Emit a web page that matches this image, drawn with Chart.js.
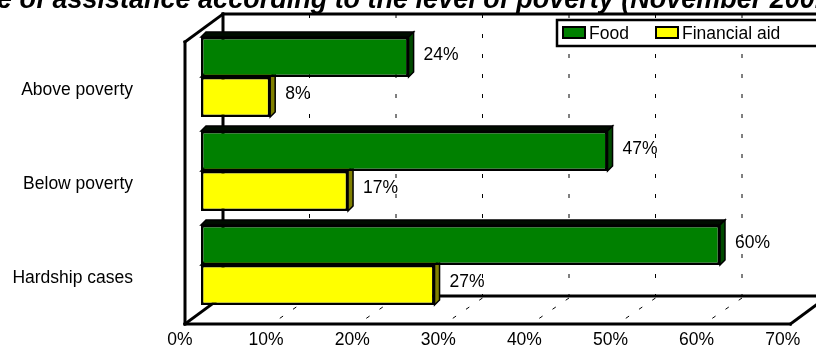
<!DOCTYPE html>
<html>
<head>
<meta charset="utf-8">
<script src="https://cdn.jsdelivr.net/npm/chart.js@4/dist/chart.umd.min.js"></script>
<style>
  html, body { margin: 0; padding: 0; background: #fff; }
</style>
</head>
<body>
<canvas id="chart" width="816" height="347"></canvas>
<script>
var titleText = 'Type of assistance according to the level of poverty (November 2001)';
var categories = ['Above poverty', 'Below poverty', 'Hardship cases'];
var seriesNames = ['Food', 'Financial aid'];
var foodValues = [24, 47, 60];
var aidValues = [8, 17, 27];
var xTicks = [0, 10, 20, 30, 40, 50, 60, 70];

var FONT = '"Liberation Sans", Arial, sans-serif';
// offsets of the back wall and the front edge from the bar plane
var BACK = { x: 22, y: -16 };
var FRONT = { x: -16, y: 12 };
// depth of each 3d bar
var DEPTH = { x: 5, y: -5 };

function line(ctx, x1, y1, x2, y2) {
    ctx.beginPath();
    ctx.moveTo(x1, y1);
    ctx.lineTo(x2, y2);
    ctx.stroke();
}

function poly(ctx, pts, fill) {
    ctx.beginPath();
    ctx.moveTo(pts[0][0], pts[0][1]);
    for (var i = 1; i < pts.length; i++) ctx.lineTo(pts[i][0], pts[i][1]);
    ctx.closePath();
    ctx.fillStyle = fill;
    ctx.fill();
    ctx.stroke();
}

var box3d = {
    id: 'box3d',
    beforeDatasetsDraw: function(chart) {
        var ctx = chart.ctx,
            xs = chart.scales.x,
            area = chart.chartArea;
        var x0 = xs.getPixelForValue(xTicks[0]),
            x1 = xs.getPixelForValue(xTicks[xTicks.length - 1]);
        var top = area.top, bottom = area.bottom;

        ctx.save();

        // dashed gridlines on the back wall and across the floor
        ctx.strokeStyle = '#000';
        ctx.lineWidth = 1;
        xTicks.slice(1, -1).forEach(function(v) {
            var px = xs.getPixelForValue(v);
            ctx.setLineDash([4, 16]);
            line(ctx, px + BACK.x, top + BACK.y, px + BACK.x, bottom + BACK.y);
            ctx.setLineDash([4, 12]);
            line(ctx, px + BACK.x, bottom + BACK.y + 2, px + FRONT.x, bottom + FRONT.y);
        });
        ctx.setLineDash([]);

        // walls and floor outline
        ctx.lineWidth = 3;
        ctx.lineCap = 'square';
        line(ctx, x0 + BACK.x, top + BACK.y, x1 + BACK.x + 20, top + BACK.y);
        line(ctx, x0 + BACK.x, top + BACK.y, x0 + BACK.x, bottom + BACK.y);
        line(ctx, x0 + BACK.x, bottom + BACK.y, x1 + BACK.x + 20, bottom + BACK.y);
        line(ctx, x0 + FRONT.x, bottom + FRONT.y, x1 + FRONT.x, bottom + FRONT.y);
        line(ctx, x0 + FRONT.x, top + FRONT.y, x0 + FRONT.x, bottom + FRONT.y);
        line(ctx, x0 + FRONT.x, top + FRONT.y, x0 + BACK.x, top + BACK.y);
        line(ctx, x0 + FRONT.x, bottom + FRONT.y, x0 + BACK.x, bottom + BACK.y);
        line(ctx, x1 + FRONT.x, bottom + FRONT.y, x1 + BACK.x, bottom + BACK.y);

        // top and side faces of the bars, fronts are drawn by the chart
        ctx.lineWidth = 1.5;
        ctx.lineJoin = 'miter';
        chart.data.datasets.forEach(function(ds, di) {
            chart.getDatasetMeta(di).data.forEach(function(el) {
                var p = el.getProps(['x', 'y', 'base', 'height'], true);
                var l = Math.min(p.base, p.x), r = Math.max(p.base, p.x);
                var t = p.y - p.height / 2, b = p.y + p.height / 2;
                poly(ctx, [[l, t], [l + DEPTH.x, t + DEPTH.y], [r + DEPTH.x, t + DEPTH.y], [r, t]], ds.topColor);
                poly(ctx, [[r, t], [r + DEPTH.x, t + DEPTH.y], [r + DEPTH.x, b + DEPTH.y], [r, b]], ds.sideColor);
            });
        });
        ctx.restore();
    },
    afterDatasetsDraw: function(chart) {
        var ctx = chart.ctx,
            xs = chart.scales.x,
            ys = chart.scales.y,
            area = chart.chartArea;

        ctx.save();
        ctx.fillStyle = '#000';
        ctx.font = '17.5px ' + FONT;
        ctx.textBaseline = 'alphabetic';

        // value labels
        ctx.textAlign = 'left';
        chart.data.datasets.forEach(function(ds, di) {
            chart.getDatasetMeta(di).data.forEach(function(el, i) {
                ctx.fillText(ds.data[i] + '%', el.x + 15, el.y + 2.5);
            });
        });

        // category labels sit on the front edge
        ctx.textAlign = 'right';
        categories.forEach(function(c, i) {
            ctx.fillText(c, 133, ys.getPixelForValue(i) + 18);
        });

        // x tick labels
        ctx.textAlign = 'center';
        xTicks.forEach(function(v) {
            ctx.fillText(v + '%', xs.getPixelForValue(v) - 21 - v * 0.04, area.bottom + 33);
        });
        ctx.restore();
    },
    afterDraw: function(chart) {
        var ctx = chart.ctx;
        ctx.save();

        // title, wider than the canvas
        ctx.font = 'italic bold 27px ' + FONT;
        ctx.textBaseline = 'alphabetic';
        ctx.textAlign = 'left';
        ctx.fillStyle = '#000';
        ctx.fillText(titleText, -3 - ctx.measureText('Typ').width, 8);

        // legend
        ctx.lineWidth = 2.5;
        ctx.strokeStyle = '#000';
        ctx.fillStyle = '#fff';
        ctx.fillRect(557, 20, 270, 26);
        ctx.strokeRect(557, 20, 270, 26);

        var items = [{ x: 563 }, { x: 656 }];
        ctx.font = '17.5px ' + FONT;
        ctx.lineWidth = 2;
        chart.data.datasets.forEach(function(ds, i) {
            var sx = items[i].x;
            ctx.fillStyle = ds.backgroundColor;
            ctx.fillRect(sx, 27, 22, 11);
            ctx.strokeRect(sx, 27, 22, 11);
            ctx.fillStyle = '#000';
            ctx.fillText(ds.label, sx + 26, 38.5);
        });
        ctx.restore();
    }
};

var chart = new Chart(document.getElementById('chart'), {
    type: 'bar',
    data: {
        labels: categories,
        datasets: [{
            label: seriesNames[0],
            data: foodValues,
            backgroundColor: '#008000',
            sideColor: '#004a00',
            topColor: '#000c00'
        }, {
            label: seriesNames[1],
            data: aidValues,
            backgroundColor: '#ffff00',
            sideColor: '#808000',
            topColor: '#b0b000'
        }]
    },
    options: {
        indexAxis: 'y',
        responsive: false,
        animation: false,
        layout: { padding: { left: 201, right: 9.5, top: 30, bottom: 35 } },
        datasets: {
            bar: {
                categoryPercentage: 0.851,
                barPercentage: 1,
                borderColor: '#000',
                borderWidth: 2.5,
                borderSkipped: false,
                inflateAmount: 0
            }
        },
        scales: {
            x: { display: false, min: 0, max: 70 },
            y: { display: false }
        },
        plugins: {
            legend: { display: false },
            title: { display: false },
            tooltip: { enabled: false }
        }
    },
    plugins: [box3d]
});
</script>
</body>
</html>
